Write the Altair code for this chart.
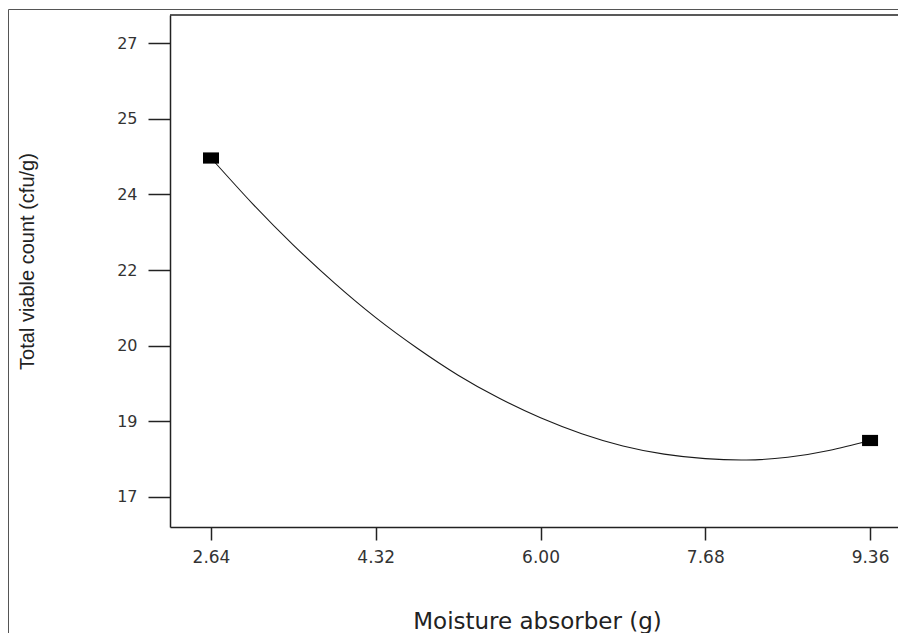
import altair as alt
import pandas as pd

# Fitted response curve (at even steps of x)
curve_x = [2.64, 3.06, 3.48, 3.90, 4.32, 4.74, 5.16, 5.58, 6.00,
           6.42, 6.84, 7.26, 7.68, 8.10, 8.52, 8.94, 9.36]
curve_y = [24.47, 23.47, 22.55, 21.71, 20.95, 20.28, 19.68, 19.17, 18.74,
           18.39, 18.12, 17.94, 17.84, 17.81, 17.87, 18.02, 18.24]

# Design points (black squares)
design_x = [2.64, 9.36]
design_y = [24.47, 18.24]

# Axis ticks
x_ticks = [2.64, 4.32, 6.00, 7.68, 9.36]
y_ticks = [17.0, 18.667, 20.333, 22.0, 23.667, 25.333, 27.0]

x_domain = [2.222, 9.645]
y_domain = [16.332, 27.624]

W, H = 728, 512

curve_df = pd.DataFrame({"x": curve_x, "y": curve_y})
design_df = pd.DataFrame({"x": design_x, "y": design_y})
one = pd.DataFrame({"k": [0]})

x_axis = alt.Axis(
    values=x_ticks, format=".2f", grid=False,
    tickSize=13, tickWidth=1.5, tickColor="#222",
    domainColor="#222", domainWidth=1.5,
    labelPadding=9, labelFont="DejaVu Sans", labelFontSize=17, labelColor="#333",
    labelFlush=False,
    title="Moisture absorber (g)", titleFont="DejaVu Sans", titleFontSize=23,
    titleFontWeight="normal", titleColor="#222",
    titleX=367, titleY=101, titleAlign="center", titleBaseline="alphabetic",
)
y_axis = alt.Axis(
    values=y_ticks, format=".0f", grid=False,
    tickSize=22, tickWidth=1.5, tickColor="#222",
    domainColor="#222", domainWidth=1.5,
    labelPadding=11, labelFont="DejaVu Sans", labelFontSize=16, labelColor="#333",
    labelFlush=False,
    title="Total viable count (cfu/g)", titleFont="Liberation Sans", titleFontSize=20,
    titleFontWeight="normal", titleColor="#222",
    titleX=-143, titleY=246, titleAngle=270, titleAlign="center", titleBaseline="middle",
)

xs = alt.Scale(domain=x_domain, nice=False, zero=False)
ys = alt.Scale(domain=y_domain, nice=False, zero=False)

line = alt.Chart(curve_df).mark_line(
    interpolate="natural", color="#1a1a1a", strokeWidth=1.1
).encode(
    x=alt.X("x:Q", scale=xs, axis=x_axis),
    y=alt.Y("y:Q", scale=ys, axis=y_axis),
)

pts = alt.Chart(design_df).mark_point(
    shape="M-1,-0.7L1,-0.7L1,0.7L-1,0.7Z", size=256, filled=True,
    color="black", opacity=1,
).encode(x=alt.X("x:Q", scale=xs), y=alt.Y("y:Q", scale=ys))

# plot frame top edge
top_edge = alt.Chart(one).mark_rule(color="#222", strokeWidth=1.5).encode(
    x=alt.value(0), x2=alt.value(W), y=alt.value(0)
)
# outer figure frame
outer_left = alt.Chart(one).mark_rule(color="#555", strokeWidth=1).encode(
    x=alt.value(-161.5), y=alt.value(-5.5), y2=alt.value(H + 110)
)
outer_top = alt.Chart(one).mark_rule(color="#555", strokeWidth=1).encode(
    x=alt.value(-161.5), x2=alt.value(W), y=alt.value(-5.5)
)

chart = alt.layer(outer_left, outer_top, top_edge, line, pts).properties(
    width=W, height=H,
    autosize=alt.AutoSizeParams(type="none"),
    padding={"left": 162, "top": 7, "right": 0, "bottom": 106},
    background="white",
).configure_view(stroke=None)

chart.save("out.html", embed_options={"renderer": "svg", "actions": False})
